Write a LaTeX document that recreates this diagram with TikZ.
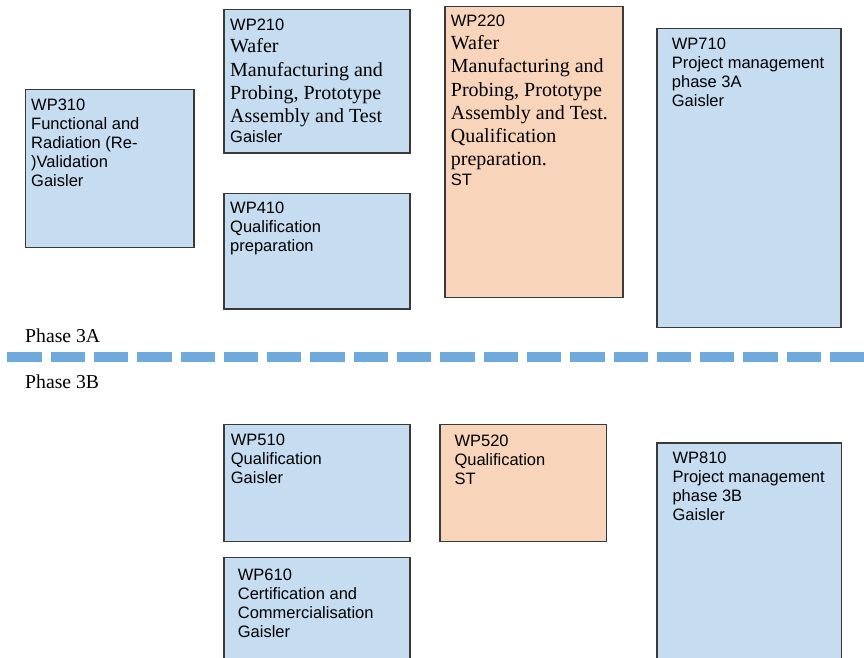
\documentclass[tikz,border=0pt]{standalone}
\usepackage{fontspec}
\setmainfont{Liberation Serif}
\setsansfont{Liberation Sans}
\usetikzlibrary{calc}

\definecolor{wpblue}{HTML}{C6DCF1}
\definecolor{wporange}{HTML}{F8D4BB}
\definecolor{wpborder}{HTML}{3A3A3A}
\definecolor{phaseblue}{HTML}{6EAADB}

\newcommand{\tnr}{\rmfamily\fontsize{20}{23}\selectfont}

\begin{document}
\begin{tikzpicture}[x=1pt,y=-1pt]
 \tikzstyle{wpbox}  = [draw=wpborder,line width=1.2pt,anchor=north west,inner sep=0pt];
 \tikzstyle{placeB} = [fill=wpblue];
 \tikzstyle{placeO} = [fill=wporange];
 \tikzstyle{wptext} = [anchor=north west,inner sep=0pt,align=left,
                       font=\sffamily\fontsize{16.5}{19}\selectfont];
 \tikzstyle{phase}  = [anchor=base west,inner sep=0pt,font=\rmfamily\fontsize{19.7}{23}\selectfont];
 \tikzstyle{phaseline} = [draw=phaseblue,line width=10.5pt,dash pattern=on 34.3pt off 9pt];

 \useasboundingbox (0,0) rectangle (864,658);

 %% phase 3A
 \node[wpbox,placeB,minimum width=168.3pt,minimum height=157.4pt,name=wp310] at (25,89.3) {};
 \node[wptext,name=wp310t] at ($(wp310.north west)+(6,9.7)$)
   {WP310\\Functional and\\Radiation (Re-\\)Validation\\Gaisler};

 \node[wpbox,placeB,minimum width=186pt,minimum height=143pt,name=wp210] at (223.3,9.3) {};
 \node[wptext,name=wp210t] at ($(wp210.north west)+(6.7,9)$)
   {WP210\\[3.7pt]
    {\tnr Wafer}\\[4.3pt]
    {\tnr Manufacturing and}\\[4.3pt]
    {\tnr Probing, Prototype}\\[4.3pt]
    {\tnr Assembly and Test}\\[1pt]
    Gaisler};

 \node[wpbox,placeB,minimum width=186pt,minimum height=115.6pt,name=wp410] at (223.3,192.7) {};
 \node[wptext,name=wp410t] at ($(wp410.north west)+(6.7,9)$)
   {WP410\\Qualification\\preparation};

 \node[wpbox,placeO,minimum width=178pt,minimum height=291pt,name=wp220] at (444.3,5.7) {};
 \node[wptext,name=wp220t] at ($(wp220.north west)+(6.4,9.3)$)
   {WP220\\[3.7pt]
    {\tnr Wafer}\\[4.3pt]
    {\tnr Manufacturing and}\\[4.3pt]
    {\tnr Probing, Prototype}\\[4.3pt]
    {\tnr Assembly and Test.}\\[4.3pt]
    {\tnr Qualification}\\[4.3pt]
    {\tnr preparation.}\\[1pt]
    ST};

 \node[wpbox,placeB,minimum width=184pt,minimum height=299pt,name=wp710] at (656.3,27.7) {};
 \node[wptext,name=wp710t] at ($(wp710.north west)+(15.4,9.6)$)
   {WP710\\Project management\\phase 3A\\Gaisler};

 %% phase border
 \node[phase,name=ph3a] at (25,342) {Phase 3A};
 \coordinate (dashL) at (7.3,357);
 \coordinate (dashR) at (880,357);
 \draw[phaseline] (dashL) -- (dashR);
 \node[phase,name=ph3b] at (25,388.7) {Phase 3B};

 %% phase 3B
 \node[wpbox,placeB,minimum width=186pt,minimum height=117pt,name=wp510] at (223.3,424) {};
 \node[wptext,name=wp510t] at ($(wp510.north west)+(7.4,9.3)$)
   {WP510\\Qualification\\Gaisler};

 \node[wpbox,placeO,minimum width=166.4pt,minimum height=117pt,name=wp520] at (439.3,424) {};
 \node[wptext,name=wp520t] at ($(wp520.north west)+(15,11)$)
   {WP520\\Qualification\\ST};

 \node[wpbox,placeB,minimum width=186pt,minimum height=101pt,name=wp610] at (223.3,556.7) {};
 \node[wptext,name=wp610t] at ($(wp610.north west)+(14.4,11.6)$)
   {WP610\\Certification and\\Commercialisation\\Gaisler};

 \node[wpbox,placeB,minimum width=184.4pt,minimum height=220pt,name=wp810] at (656.3,442.3) {};
 \node[wptext,name=wp810t] at ($(wp810.north west)+(16,9.4)$)
   {WP810\\Project management\\phase 3B\\Gaisler};

\end{tikzpicture}
\end{document}
